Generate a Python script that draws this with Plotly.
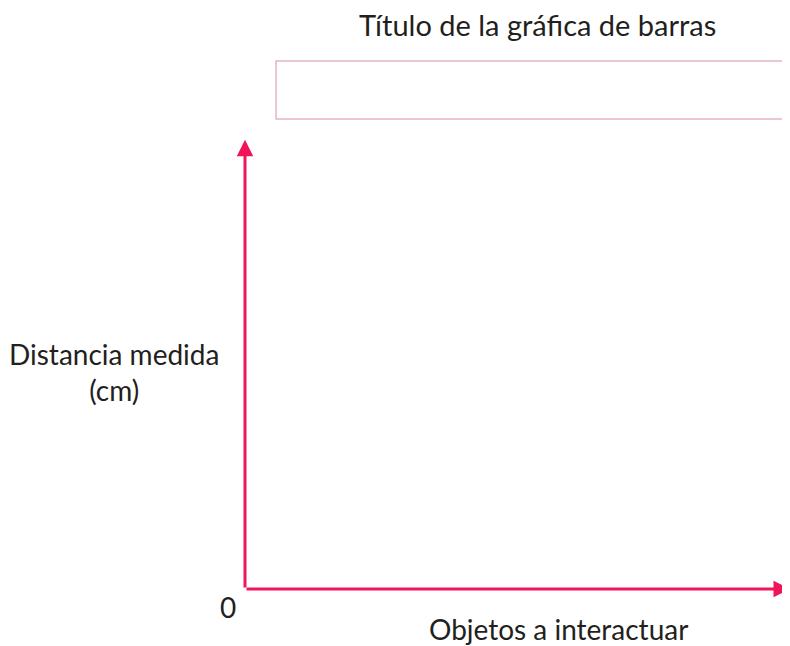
import plotly.graph_objects as go

# empty bar chart template: no categories or values filled in yet
categories = []
values = []
title_text = "Título de la gráfica de barras"
x_title = "Objetos a interactuar"
y_title = "Distancia medida<br>(cm)"
origin_label = "0"

pink = "#f0145a"
ink = "#231f20"
font_family = "Lato, 'Noto Sans', sans-serif"

fig = go.Figure(data=[go.Bar(x=categories, y=values, marker_color=pink)])

# axis arrows
arrow_style = dict(
    xref="x domain", yref="y domain", axref="x domain", ayref="y domain",
    text="", showarrow=True, arrowhead=2, arrowsize=1.1, arrowwidth=3,
    arrowcolor=pink,
)
fig.add_annotation(x=1, y=0, ax=0, ay=0, **arrow_style)
fig.add_annotation(x=0, y=1.005, ax=0, ay=0, **arrow_style)

# placeholder box for legend
fig.add_shape(
    type="rect", xref="paper", yref="paper",
    x0=0.057, x1=1.02, y0=1.0515, y1=1.181,
    line=dict(color="#e6b3c9", width=1.5), fillcolor="rgba(0,0,0,0)",
)

text_font = dict(family=font_family, size=28, color=ink)
fig.add_annotation(
    text=title_text, xref="paper", yref="paper", x=0.536, y=1.262,
    xanchor="center", yanchor="middle", showarrow=False, borderpad=0,
    font=dict(family=font_family, size=29, color=ink),
)
fig.add_annotation(
    text=x_title, xref="paper", yref="paper", x=0.576, y=-0.0895,
    xanchor="center", yanchor="middle", showarrow=False, font=text_font,
)
fig.add_annotation(
    text=y_title, xref="paper", yref="paper", x=-0.240, y=0.4855,
    xanchor="center", yanchor="middle", showarrow=False, font=text_font,
)
fig.add_annotation(
    text=origin_label, xref="paper", yref="paper", x=-0.031, y=-0.040,
    xanchor="center", yanchor="middle", showarrow=False, font=text_font,
)

fig.update_xaxes(visible=False, range=[0, 1], fixedrange=True)
fig.update_yaxes(visible=False, range=[0, 1], fixedrange=True)
# page body has an 8px margin, so the figure is sized to the visible area
fig.update_layout(
    width=782, height=638,
    margin=dict(l=237, r=0, t=134, b=57),
    plot_bgcolor="white", paper_bgcolor="white",
    showlegend=False,
)
fig.write_html("out.html")
